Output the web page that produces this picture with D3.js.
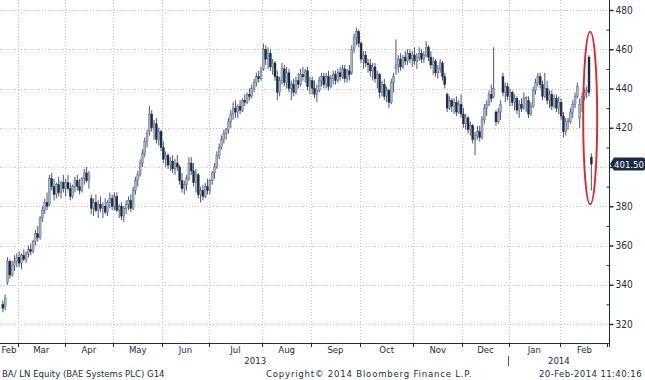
<!DOCTYPE html>
<html>
<head>
<meta charset="utf-8">
<script src="https://cdn.jsdelivr.net/npm/d3@7"></script>
<style>
  body { margin: 0; background: #fff; }
  svg text { font-family: "DejaVu Sans Condensed", "DejaVu Sans", sans-serif; fill: #1b2c45; }
</style>
</head>
<body>
<svg id="chart"></svg>
<script>
// daily candles [open, high, low, close], one array per month
const feb13 = [[330,332,326,328],[329,335,327,333],[341,354,340,352],[352,353,343,345],[345,352,344,350],[350,355,347,352],[352,356,349,354]];
const mar13 = [[354,357,349,351],[351,356,348,355],[355,358,352,353],[353,357,351,356],[356,360,354,358],[358,361,355,357],[357,363,356,362],[362,368,360,366],[366,370,362,364],[364,375,363,374],[374,380,372,378],[378,384,376,382],[382,387,378,380],[381,396,380,394],[394,397,388,390],[390,394,383,386],[386,392,384,391],[391,395,385,387],[387,393,384,392],[392,396,387,389]];
const apr13 = [[389,394,385,392],[392,396,388,389],[389,392,383,385],[385,391,384,390],[390,395,387,393],[393,396,388,390],[390,394,386,388],[388,395,387,394],[394,399,391,397],[397,400,392,393],[393,398,389,396],[384,386,376,379],[379,384,375,382],[382,386,377,378],[378,383,374,381],[381,385,377,379],[379,382,374,380],[380,384,376,377],[377,383,375,382],[382,387,379,384],[384,386,378,380]];
const may13 = [[380,387,378,385],[385,387,377,378],[378,381,374,380],[380,382,373,375],[375,380,372,379],[379,383,376,381],[381,385,378,383],[383,386,377,379],[379,390,378,388],[388,395,386,393],[393,398,390,396],[396,404,395,402],[402,409,400,407],[407,415,405,413],[413,419,410,417],[418,431,416,427],[427,429,418,420],[420,424,414,422],[422,425,412,414],[414,420,411,418],[418,419,408,410]];
const jun13 = [[410,413,402,404],[404,408,400,406],[406,407,399,401],[401,405,398,403],[403,406,397,399],[399,404,396,402],[402,406,398,400],[400,401,391,393],[393,397,387,389],[389,393,386,391],[391,396,388,394],[394,405,393,402],[402,405,396,398],[398,402,390,392],[392,399,387,396],[396,397,384,386],[386,390,382,388],[388,391,383,385],[385,392,384,390],[390,394,386,388]];
const jul13 = [[388,394,386,393],[393,398,391,397],[397,402,394,400],[400,408,399,406],[406,412,404,410],[410,416,409,414],[414,419,412,417],[417,420,414,419],[419,425,417,423],[423,429,420,427],[427,433,424,430],[430,434,425,428],[428,432,425,431],[431,434,427,429],[429,435,428,434],[434,437,431,433],[433,438,432,437],[437,440,434,436],[436,442,435,440],[440,445,438,443],[443,448,441,446],[446,449,443,445],[445,451,444,449]];
const aug13 = [[450,463,449,460],[460,462,452,455],[455,461,450,458],[458,460,449,451],[451,455,447,453],[453,454,444,446],[446,449,434,438],[438,446,436,444],[444,453,442,450],[450,452,441,443],[443,451,440,448],[448,450,438,440],[440,444,434,442],[442,445,436,438],[438,446,437,444],[444,448,440,442],[442,450,441,447],[447,451,444,446],[446,450,443,449],[449,451,439,441],[441,446,437,444]];
const sep13 = [[444,446,437,440],[440,444,435,437],[437,442,433,439],[439,446,438,444],[444,448,441,446],[446,448,440,442],[442,448,440,446],[446,449,439,441],[441,447,440,445],[445,449,442,447],[447,449,442,444],[444,450,443,448],[448,451,444,446],[446,452,445,450],[450,452,443,445],[445,450,443,449],[449,452,444,447],[448,462,447,460],[460,468,458,466],[466,471,462,469],[469,470,461,463]];
const oct13 = [[463,464,453,455],[455,459,450,457],[457,459,451,453],[453,455,448,452],[452,455,446,449],[449,453,444,451],[451,453,443,445],[445,449,440,447],[447,448,435,438],[438,444,436,442],[442,445,434,436],[436,441,433,439],[439,440,430,433],[433,445,432,443],[443,448,438,446],[450,465,447,452],[452,457,448,455],[455,458,449,451],[451,457,450,456],[456,459,452,454],[454,460,452,458],[458,460,453,455],[455,459,451,457]];
const nov13 = [[457,461,452,454],[454,458,450,456],[456,461,454,458],[458,460,453,455],[455,459,453,457],[457,464,456,461],[461,462,454,456],[456,459,450,452],[452,456,447,454],[454,455,446,448],[448,452,445,450],[450,455,448,453],[453,454,444,446],[446,448,440,442],[437,438,428,430],[430,436,429,434],[434,435,428,431],[431,435,427,433],[433,436,426,428],[428,434,427,432],[432,437,425,427]];
const dec13 = [[427,430,420,422],[422,427,419,425],[425,426,417,419],[419,423,416,421],[421,422,412,414],[414,418,406,416],[416,421,414,418],[418,421,413,415],[415,426,414,424],[424,432,422,430],[430,434,426,432],[432,439,431,437],[437,442,433,435],[436,461,435,440],[428,429,421,423],[423,430,422,428],[428,434,424,432],[446,448,436,438],[438,443,433,441],[441,443,434,436]];
const jan14 = [[436,440,431,438],[438,439,431,433],[433,437,429,435],[435,436,427,429],[429,434,425,432],[432,435,428,430],[430,438,429,435],[435,436,428,435.5],[434,436,425,427],[427,433,426,431],[431,441,430,439],[439,445,437,443],[443,448,441,446],[446,448,440,442],[442,444,434,436],[436,448,435,440],[440,444,432,434],[434,439,430,437],[437,439,429,431],[431,437,430,435],[435,437,428,430],[430,436,427,433]];
const feb14 = [[433,435,424,426],[426,428,415,418],[418,425,416,423],[423,425,419,423.5],[423,430,422,428],[428,434,425,432],[432,438,430,436],[436,443,435,441],[425,435,420,432],[432,438,428,436],[436,440,434,438],[438,441,435,439],[456,457,436,438],[405,407,388,401.5]];

const months = [feb13, mar13, apr13, may13, jun13, jul13, aug13, sep13, oct13, nov13, dec13, jan14, feb14];
const monthLabels = ['Feb','Mar','Apr','May','Jun','Jul','Aug','Sep','Oct','Nov','Dec','Jan','Feb'];
const yearLabels = ['2013', '2014'];
const yearFirstMonth = [0, 11];
const priceTicks = [320, 340, 360, 380, 400, 420, 440, 460, 480];
const minorTicks = [330, 350, 370, 390, 410, 430, 450, 470];
const lastPrice = 401.50;
const circledRange = [381, 469];

const width = 645;
const height = 380;
const axisX = 609;
const axisY = 343;
const dark = '#1b2c45';

const candles = [];
const monthStart = [];
months.forEach((m, mi) => {
    monthStart.push(candles.length);
    m.forEach(d => candles.push({ o: d[0], h: d[1], l: d[2], c: d[3], month: mi }));
});

const svg = d3.select('#chart')
    .attr('width', width)
    .attr('height', height);

const x = d3.scaleBand()
    .domain(d3.range(candles.length))
    .range([1.7, 592.5]);

const y = d3.scaleLinear()
    .domain([320, 480])
    .range([324, 10]);

const bw = x.bandwidth();
const cx = i => x(i) + bw / 2;

// grid
svg.append('g')
    .selectAll('line')
    .data(priceTicks)
    .enter()
    .append('line')
    .attr('x1', 0).attr('x2', axisX)
    .attr('y1', d => Math.round(y(d)) + 0.5).attr('y2', d => Math.round(y(d)) + 0.5)
    .attr('stroke', '#c4c4c4')
    .attr('stroke-dasharray', '1,2');

svg.append('g')
    .selectAll('line')
    .data(monthStart.slice(1))
    .enter()
    .append('line')
    .attr('x1', d => Math.round(x(d)) + 0.5).attr('x2', d => Math.round(x(d)) + 0.5)
    .attr('y1', 0).attr('y2', axisY)
    .attr('stroke', '#c4c4c4')
    .attr('stroke-dasharray', '1,2');

// candles
const cg = svg.append('g');
cg.selectAll('.wick')
    .data(candles)
    .enter()
    .append('line')
    .attr('x1', (d, i) => cx(i)).attr('x2', (d, i) => cx(i))
    .attr('y1', d => y(d.h)).attr('y2', d => y(d.l))
    .attr('stroke', dark)
    .attr('stroke-width', 0.8);

cg.selectAll('.body')
    .data(candles)
    .enter()
    .append('rect')
    .attr('x', (d, i) => cx(i) - 1)
    .attr('width', 2)
    .attr('y', d => y(Math.max(d.o, d.c)))
    .attr('height', d => Math.max(1, Math.abs(y(d.o) - y(d.c))))
    .attr('fill', d => d.c >= d.o ? '#a3b4ca' : dark)
    .attr('stroke', d => d.c >= d.o ? '#4d5f7a' : dark)
    .attr('stroke-width', 0.4);

// right axis
svg.append('line')
    .attr('x1', axisX + 0.5).attr('x2', axisX + 0.5)
    .attr('y1', 0).attr('y2', axisY + 4)
    .attr('stroke', dark);

// the label under the last-price tag is hidden, as in the terminal
const yAxis = svg.append('g')
    .attr('transform', `translate(${axisX + 0.5},0)`)
    .call(d3.axisRight(y).tickValues(priceTicks).tickSize(4).tickPadding(2)
        .tickFormat(d => Math.abs(d - lastPrice) < 8 ? '' : d));
yAxis.select('.domain').remove();
yAxis.selectAll('line').attr('stroke', dark).attr('stroke-width', 1.5);
yAxis.selectAll('text').attr('font-size', 10).style('font-family', null).attr('fill', dark);

const yMinor = svg.append('g')
    .attr('transform', `translate(${axisX + 0.5},0)`)
    .call(d3.axisLeft(y).tickValues(minorTicks).tickSize(3).tickFormat(''));
yMinor.select('.domain').remove();
yMinor.selectAll('line').attr('stroke', dark);

// bottom axis
svg.append('line')
    .attr('x1', 0).attr('x2', axisX)
    .attr('y1', axisY + 0.5).attr('y2', axisY + 0.5)
    .attr('stroke', dark);

svg.append('g')
    .selectAll('line')
    .data(monthStart.slice(1).map(i => x(i)).concat([axisX - 2]))
    .enter()
    .append('line')
    .attr('x1', d => Math.round(d) + 0.5).attr('x2', d => Math.round(d) + 0.5)
    .attr('y1', axisY).attr('y2', axisY + 4)
    .attr('stroke', dark);

const monthEnds = monthStart.slice(1).map(i => x(i)).concat([axisX]);
const monthBegins = [0].concat(monthStart.slice(1).map(i => x(i)));
svg.append('g')
    .selectAll('text')
    .data(monthLabels)
    .enter()
    .append('text')
    .attr('x', (d, i) => (monthBegins[i] + monthEnds[i]) / 2)
    .attr('y', 353)
    .attr('text-anchor', 'middle')
    .attr('font-size', 9.5)
    .text(d => d);

const yearStartX = yearFirstMonth.map(m => m === 0 ? x(0) : x(monthStart[m]));
const yearEndX = [yearStartX[1], axisX];
svg.append('g')
    .selectAll('text')
    .data(yearLabels)
    .enter()
    .append('text')
    .attr('x', (d, i) => (yearStartX[i] + yearEndX[i]) / 2)
    .attr('y', 364)
    .attr('text-anchor', 'middle')
    .attr('font-size', 9.5)
    .text(d => d);

svg.append('line')
    .attr('x1', Math.round(yearStartX[1]) - 0.5).attr('x2', Math.round(yearStartX[1]) - 0.5)
    .attr('y1', 356).attr('y2', 366)
    .attr('stroke', '#555');

// last price tag
const ly = y(lastPrice);
svg.append('path')
    .attr('d', `M${axisX + 1},${ly} L${axisX + 5},${ly - 6.5} H${width - 2} Q${width},${ly - 6.5} ${width},${ly - 4.5} V${ly + 4.5} Q${width},${ly + 6.5} ${width - 2},${ly + 6.5} H${axisX + 5} Z`)
    .attr('fill', dark);
svg.append('text')
    .attr('x', 629)
    .attr('y', ly + 3.5)
    .attr('text-anchor', 'middle')
    .attr('font-size', 9.5)
    .style('fill', '#fff')
    .text(lastPrice.toFixed(2));

// circled drop around the last two sessions
const lastI = candles.length - 1;
svg.append('ellipse')
    .attr('cx', (cx(lastI - 1) + cx(lastI)) / 2)
    .attr('cy', (y(circledRange[0]) + y(circledRange[1])) / 2)
    .attr('rx', 7)
    .attr('ry', (y(circledRange[0]) - y(circledRange[1])) / 2)
    .attr('fill', 'none')
    .attr('stroke', '#e0252b')
    .attr('stroke-width', 1.9);

// footer
svg.append('text').attr('x', 2).attr('y', 377).attr('font-size', 9.5)
    .text('BA/ LN Equity (BAE Systems PLC) G14');
svg.append('text').attr('x', 266).attr('y', 377).attr('font-size', 9.5)
    .attr('letter-spacing', 0.8)
    .text('Copyright\u00a9 2014 Bloomberg Finance L.P.');
svg.append('text').attr('x', 642).attr('y', 377).attr('font-size', 9.5).attr('text-anchor', 'end')
    .attr('letter-spacing', 0.4)
    .text('20-Feb-2014 11:40:16');
</script>
</body>
</html>
